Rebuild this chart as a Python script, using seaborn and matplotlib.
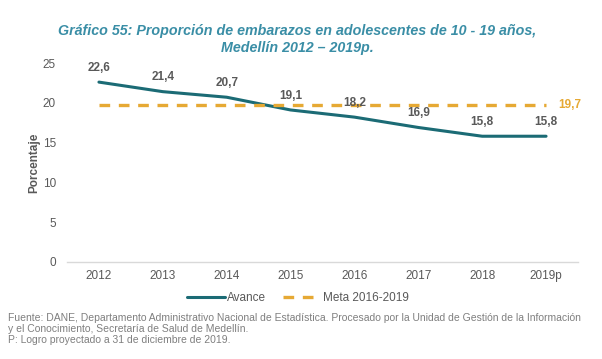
import pandas as pd
import seaborn as sns
import matplotlib.pyplot as plt

sns.set_style("white")
plt.rcParams['font.family'] = ['Liberation Sans', 'DejaVu Sans']

anios = ["2012", "2013", "2014", "2015", "2016", "2017", "2018", "2019p"]
avance = [22.6, 21.4, 20.7, 19.1, 18.2, 16.9, 15.8, 15.8]
meta = [19.7, 19.7, 19.7, 19.7, 19.7, 19.7, 19.7, 19.7]

dat = pd.DataFrame({"anio": anios, "Avance": avance, "Meta 2016-2019": meta})
dat["x"] = range(len(anios))

teal = "#1b6b75"
naranja = "#e6a934"
gris = "#595959"

fig = plt.figure(figsize=(6.02, 3.59), dpi=100)
ax = fig.add_axes([67 / 602, 1 - 262 / 359, (578 - 67) / 602, (262 - 63) / 359])

sns.lineplot(data=dat, x="x", y="Avance", ax=ax, color=teal, linewidth=2.2, label="Avance")
sns.lineplot(data=dat, x="x", y="Meta 2016-2019", ax=ax, color=naranja, linewidth=2.4,
             linestyle=(0, (3.2, 2.6)), label="Meta 2016-2019")

ax.set_xlim(-0.5, len(anios) - 0.5)
ax.set_ylim(0, 25)
ax.set_xticks(dat["x"])
ax.set_xticklabels(anios)
ax.set_yticks([0, 5, 10, 15, 20, 25])
ax.tick_params(axis="both", labelsize=8.5, colors=gris, length=0)
ax.tick_params(axis="y", pad=8)
ax.tick_params(axis="x", pad=6)
for s in ["top", "right", "left"]:
    ax.spines[s].set_visible(False)
ax.spines["bottom"].set_color("#d9d9d9")
ax.spines["bottom"].set_linewidth(1)

ax.set_xlabel("")
ax.set_ylabel("Porcentaje", fontsize=8.5, fontweight="bold", color=gris, labelpad=2)

for i, v in enumerate(avance):
    ax.annotate(f"{v:.1f}".replace(".", ","), (i, v), xytext=(0, 6), textcoords="offset points",
                ha="center", va="bottom", fontsize=8.5, fontweight="bold", color=gris)
ax.annotate(f"{meta[-1]:.1f}".replace(".", ","), (len(meta) - 1, meta[-1]), xytext=(9, 0),
            textcoords="offset points", ha="left", va="center", fontsize=8.5,
            fontweight="bold", color=naranja)

leg = ax.legend(loc="center", bbox_to_anchor=(298 / 602, 1 - 298 / 359),
                bbox_transform=fig.transFigure, ncol=2, frameon=False,
                fontsize=8.5, handlelength=3.2, columnspacing=1.45, handletextpad=0.15)
for t in leg.get_texts():
    t.set_color(gris)

fig.text(297 / 602, 1 - 39.5 / 359, "Gráfico 55: Proporción de embarazos en adolescentes de 10 - 19 años,\nMedellín 2012 – 2019p.",
         ha="center", va="center", fontsize=10.3, fontweight="bold", style="italic",
         color="#3a8ea6", linespacing=1.2)

fig.text(8 / 602, 1 - 313 / 359,
         "Fuente: DANE, Departamento Administrativo Nacional de Estadística. Procesado por la Unidad de Gestión de la Información\n"
         "y el Conocimiento, Secretaría de Salud de Medellín.\n"
         "P: Logro proyectado a 31 de diciembre de 2019.",
         ha="left", va="top", fontsize=7.5, color="#7f7f7f", linespacing=1.1)

plt.savefig("out.png", dpi=100)
plt.close()
